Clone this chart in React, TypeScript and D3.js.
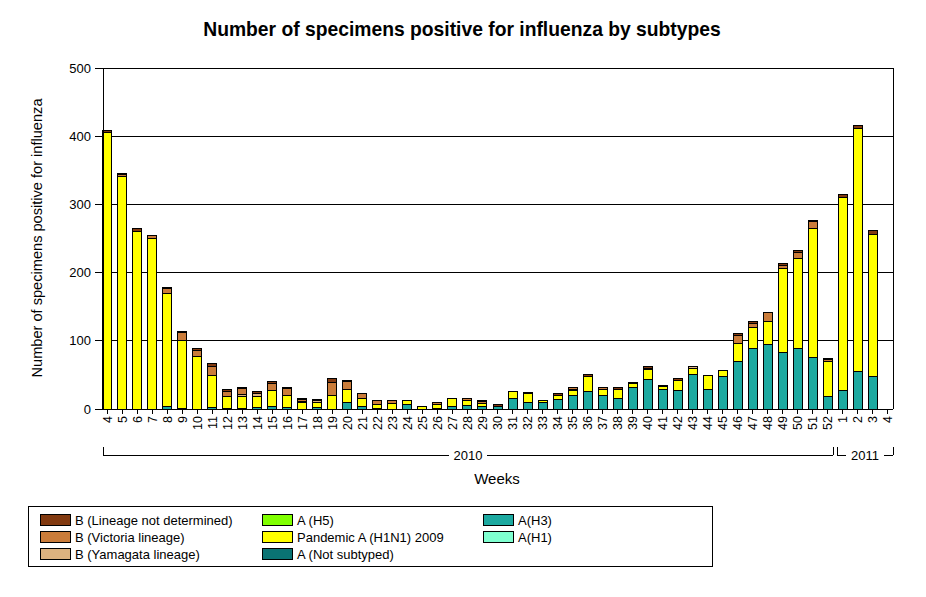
import React from "react";
import * as d3 from "d3";

const weekLabels = [
  "4","5","6","7","8","9","10","11","12","13","14","15","16","17","18","19","20","21","22","23","24","25","26","27","28","29","30","31","32","33","34","35","36","37","38","39","40","41","42","43","44","45","46","47","48","49","50","51","52",
  "1","2","3","4",
];

const aH3 = [0,0,0,0,3,1,0,2,1,1,2,3,2,0,2,0,10,3,1,0,6,0,1,4,5,3,4,16,10,10,14,20,25,20,16,31,43,28,27,51,29,47,70,88,94,83,89,76,19,27,55,48,0];
const aNotSubtyped = [0,0,0,0,0,0,0,0,0,0,0,0,0,0,0,0,0,0,0,0,0,0,0,0,0,0,0,0,0,0,0,0,0,0,0,0,0,0,0,0,0,0,0,0,0,0,0,0,0,0,0,0,0];
const aH1 = [0,0,0,0,0,0,0,0,0,0,0,0,0,0,0,0,0,0,0,0,0,0,0,0,0,0,0,0,0,0,0,0,0,0,0,0,0,0,0,0,0,0,0,0,0,0,0,0,0,0,0,0,0];
const pandemic = [406,341,260,250,167,100,77,47,18,18,17,24,18,10,8,20,19,13,6,8,7,3,6,11,8,5,0,10,12,3,6,7,23,8,13,6,15,5,15,9,20,9,26,32,34,123,131,188,51,283,356,208,0];
const aH5 = [0,0,0,0,0,0,0,0,0,0,0,0,0,0,0,0,0,0,0,0,0,0,0,0,0,0,0,0,0,0,0,0,0,0,0,0,0,0,0,0,0,0,0,0,0,0,0,0,0,0,0,0,0];
const bYamagata = [0,0,0,0,0,0,0,0,0,2,3,0,0,1,2,0,0,0,0,0,0,0,0,0,0,0,0,0,0,0,0,1,0,0,0,0,0,0,0,3,0,0,0,0,0,0,0,0,0,0,0,0,0];
const bVictoria = [0,3,0,5,6,11,9,14,7,9,1,11,10,3,2,19,11,6,5,5,0,0,3,0,3,3,0,0,0,0,0,4,0,3,0,0,2,0,0,0,0,0,12,6,14,5,10,11,2,0,0,0,0];
const bNotDetermined = [2,2,5,0,2,2,2,3,2,2,2,3,1,2,0,5,2,1,0,0,0,1,0,0,0,1,2,0,2,0,2,0,2,0,2,2,2,2,2,0,0,0,2,2,0,2,2,2,2,4,4,6,0];

const yTicks = [0, 100, 200, 300, 400, 500];

const series = [
  { key: "H3", label: "A(H3)", color: "#1CA9A0", values: aH3 },
  { key: "NS", label: "A (Not subtyped)", color: "#0A7373", values: aNotSubtyped },
  { key: "H1", label: "A(H1)", color: "#7FFFD0", values: aH1 },
  { key: "P", label: "Pandemic A (H1N1) 2009", color: "#FFFF00", values: pandemic },
  { key: "H5", label: "A (H5)", color: "#80FF00", values: aH5 },
  { key: "BY", label: "B (Yamagata lineage)", color: "#DDB27F", values: bYamagata },
  { key: "BV", label: "B (Victoria lineage)", color: "#CA7C3A", values: bVictoria },
  { key: "BN", label: "B (Lineage not determined)", color: "#823A10", values: bNotDetermined },
];

const legendCols = [
  ["BN", "BV", "BY"],
  ["H5", "P", "NS"],
  ["H3", "H1"],
];

const FONT = "'Liberation Sans', Arial, sans-serif";

export default function App() {
  const left = 103, right = 893, top = 68, bottom = 409;
  const idx = weekLabels.map((_, i) => i);
  const x = d3.scalePoint<number>().domain(idx).range([107.3, 887.7]);
  const y = d3.scaleLinear().domain([0, 500]).range([bottom, top]);
  const table = idx.map((i) => {
    const row: any = { i };
    series.forEach((s) => (row[s.key] = s.values[i]));
    return row;
  });
  const stack = d3.stack<any>().keys(series.map((s) => s.key));
  const layers = stack(table);
  const bw = 9;

  const y2010Center = (103 + 833) / 2;
  const y2011Center = (837 + 893) / 2;
  const bracketY = 455;

  return (
    <svg
      width={926}
      height={597}
      style={{ position: "absolute", left: 0, top: 0, background: "#fff" }}
      fontFamily={FONT}
    >
      <rect x={0} y={0} width={926} height={597} fill="#fff" />
      <text x={462} y={36} textAnchor="middle" fontSize={19.3} fontWeight="bold">
        Number of specimens positive for influenza by subtypes
      </text>
      {/* gridlines */}
      {yTicks.filter((t) => t > 0).map((t) => (
        <line key={t} x1={left} x2={right} y1={y(t)} y2={y(t)} stroke="#000" strokeWidth={1} shapeRendering="crispEdges" />
      ))}
      <line x1={right} x2={right} y1={top} y2={bottom} stroke="#000" shapeRendering="crispEdges" />
      {/* bars */}
      {layers.map((layer, li) => (
        <g key={series[li].key}>
          {layer.map((d, i) =>
            d[1] - d[0] > 0 ? (
              <rect
                key={i}
                x={(x(i) as number) - bw / 2}
                y={y(d[1])}
                width={bw}
                height={y(d[0]) - y(d[1])}
                fill={series[li].color}
                stroke="#000"
                strokeWidth={1}
                shapeRendering="crispEdges"
              />
            ) : null
          )}
        </g>
      ))}
      {/* y axis */}
      <line x1={left} x2={left} y1={top} y2={bottom} stroke="#000" shapeRendering="crispEdges" />
      {yTicks.map((t) => (
        <g key={t}>
          <line x1={95} x2={left} y1={y(t)} y2={y(t)} stroke="#000" shapeRendering="crispEdges" />
          <text x={91} y={y(t)} dy="0.35em" textAnchor="end" fontSize={13}>
            {t}
          </text>
        </g>
      ))}
      <text
        transform={`translate(42,238) rotate(-90)`}
        textAnchor="middle"
        fontSize={14.6}
      >
        Number of specimens positive for influenza
      </text>
      {/* x axis */}
      <line x1={left} x2={right} y1={bottom} y2={bottom} stroke="#000" shapeRendering="crispEdges" />
      {idx.map((i) => (
        <g key={i}>
          <line x1={x(i)} x2={x(i)} y1={bottom} y2={bottom + 5} stroke="#000" shapeRendering="crispEdges" />
          <text
            transform={`translate(${x(i)},${416}) rotate(-90)`}
            textAnchor="end"
            dy="0.35em"
            fontSize={12.5}
          >
            {weekLabels[i]}
          </text>
        </g>
      ))}
      {/* year brackets */}
      <g stroke="#000" shapeRendering="crispEdges">
        <line x1={103} x2={103} y1={447} y2={bracketY} />
        <line x1={103} x2={y2010Center - 19} y1={bracketY} y2={bracketY} />
        <line x1={y2010Center + 19} x2={833} y1={bracketY} y2={bracketY} />
        <line x1={833} x2={833} y1={447} y2={bracketY} />
        <line x1={837} x2={837} y1={447} y2={bracketY} />
        <line x1={837} x2={y2011Center - 19} y1={bracketY} y2={bracketY} />
        <line x1={y2011Center + 19} x2={893} y1={bracketY} y2={bracketY} />
        <line x1={893} x2={893} y1={447} y2={bracketY} />
      </g>
      <text x={y2010Center} y={bracketY} dy="0.35em" textAnchor="middle" fontSize={13}>2010</text>
      <text x={y2011Center} y={bracketY} dy="0.35em" textAnchor="middle" fontSize={13}>2011</text>
      <text x={497} y={484} textAnchor="middle" fontSize={15}>Weeks</text>
      {/* legend */}
      <rect x={28.5} y={506.5} width={684} height={60} fill="#fff" stroke="#000" />
      {legendCols.map((col, ci) =>
        col.map((k, ri) => {
          const s = series.find((q) => q.key === k)!;
          const sx = [40, 262, 483][ci];
          const ry = 520 + ri * 17;
          return (
            <g key={k}>
              <rect x={sx + 0.5} y={ry - 5.5} width={30} height={11} fill={s.color} stroke="#000" shapeRendering="crispEdges" />
              <text x={sx + 35} y={ry} dy="0.35em" fontSize={13}>
                {s.label}
              </text>
            </g>
          );
        })
      )}
    </svg>
  );
}
